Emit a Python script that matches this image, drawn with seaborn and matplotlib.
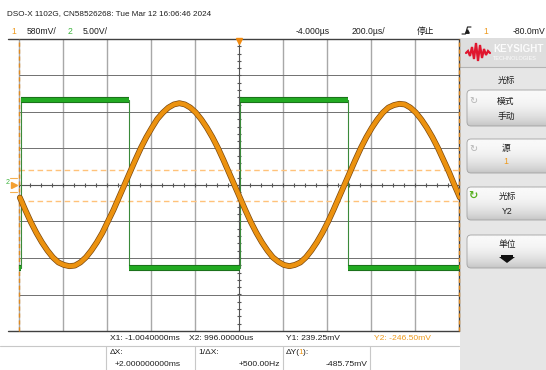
import numpy as np
import pandas as pd
import matplotlib
matplotlib.use('Agg')
import matplotlib.pyplot as plt
import seaborn as sns
from matplotlib.patches import Rectangle, FancyBboxPatch, Polygon

# scope settings shown on screen
ch1_mv_per_div = 580.0
ch2_v_per_div = 5.0
t_center_us = -4.0
us_per_div = 200.0

sine_t_us = np.arange(-1000, 1001, 25)
sine_mv = [-200, -400, -590, -760, -910, -1040, -1150, -1230, -1270, -1290,
           -1280, -1230, -1150, -1040, -910, -760, -580, -400, -200, 0,
           200, 400, 590, 760, 910, 1050, 1150, 1230, 1280, 1300,
           1280, 1230, 1150, 1040, 910, 760, 590, 400, 200, 0,
           -200, -400, -590, -760, -910, -1040, -1150, -1220, -1270, -1290,
           -1270, -1230, -1150, -1040, -910, -760, -590, -400, -200, 0,
           200, 400, 590, 760, 910, 1040, 1150, 1230, 1270, 1290,
           1280, 1230, 1150, 1040, 910, 760, 590, 400, 210, 0,
           -200]

# channel 2 (green) square wave corners
square_t_us = [-1004, -996, -996, -504, -504, 0, 0, 492, 492, 996]
square_v = [-11.4, -11.4, 11.6, 11.6, -11.4, -11.4, 11.6, 11.6, -11.4, -11.4]

# cursors
cursor_x_us = [-1004.0, 996.0]
cursor_y_mv = [239.25, -246.50]

ORANGE = '#ee9a1e'
GREEN = '#3cb43c'
TXT = '#1e1e1e'

sns.set_style('white')
plt.rcParams['font.family'] = ['Liberation Sans', 'Noto Sans CJK SC', 'DejaVu Sans']

fig = plt.figure(figsize=(5.46, 3.70), dpi=100)
ui = fig.add_axes([0, 0, 1, 1])
ui.axis('off')

W, H = 546, 370
gx0, gx1, gy0, gy1 = 7.7, 459, 39, 331
ax = fig.add_axes([gx0 / W, 1 - gy1 / H, (gx1 - gx0) / W, (gy1 - gy0) / H])
ax.axis('off')

t_left = t_center_us - 5 * us_per_div
t_right = t_center_us + 5 * us_per_div
ax.set_xlim(t_left - (19 - gx0) / 44 * us_per_div, t_right)
ax.set_ylim(-4, 4)

# graticule
for t in t_left + us_per_div * np.arange(10):
    if abs(t - t_center_us) < 1:
        continue
    ax.axvline(t, color='#a8a8a8', lw=1.0, zorder=1)
ax.axvline(t_center_us, color='#555555', lw=0.8, zorder=1)
for yv in [-3, -2, -1, 1, 2, 3]:
    ax.hlines(yv, t_left, t_right, color='#707070', lw=0.7, zorder=1)
ax.hlines(0, t_left, t_right, color='#555555', lw=0.8, zorder=1)
ax.axhline(4, color='#404040', lw=1.0, clip_on=False, zorder=1)
ax.axhline(-4, color='#404040', lw=1.0, clip_on=False, zorder=1)
ax.axvline(t_right, color='#404040', lw=1.0, clip_on=False, zorder=1)
ax.vlines(np.arange(t_left, t_right + 1, us_per_div / 4), -0.06, 0.06,
          color='#555555', lw=0.8, zorder=1)
ax.hlines(np.arange(-4, 4.01, 0.2), t_center_us - 9, t_center_us + 9,
          color='#555555', lw=0.8, zorder=1)

# cursors
for cy in cursor_y_mv:
    ax.hlines(cy / ch1_mv_per_div, t_left, t_right, color='#ffc27a',
              lw=1.0, linestyles=(0, (4, 2.5)), zorder=2)
for cx in cursor_x_us:
    ax.axvline(cx, color='#e08a20', lw=1.0, ls=(0, (3, 2)), clip_on=False, zorder=2)

# channel 2 square wave
sq = pd.DataFrame({'t': square_t_us,
                   'div': np.array(square_v) / ch2_v_per_div,
                   'seg': np.arange(len(square_t_us)) // 2})
sns.lineplot(data=sq, x='t', y='div', sort=False, estimator=None,
             color='#3a8a3a', lw=0.8, ax=ax, zorder=3)
sns.lineplot(data=sq, x='t', y='div', units='seg', sort=False, estimator=None,
             color='#1a621a', lw=4.4, ax=ax, zorder=3, solid_capstyle='butt')
sns.lineplot(data=sq, x='t', y='div', units='seg', sort=False, estimator=None,
             color='#22aa22', lw=3.2, ax=ax, zorder=3, solid_capstyle='butt')

# channel 1 sine
s1 = pd.DataFrame({'t': sine_t_us, 'div': np.array(sine_mv) / ch1_mv_per_div})
sns.lineplot(data=s1, x='t', y='div', sort=False, estimator=None,
             color='#7a4810', lw=4.2, ax=ax, zorder=4)
sns.lineplot(data=s1, x='t', y='div', sort=False, estimator=None,
             color='#ec920f', lw=3.2, ax=ax, zorder=4)

# delay marker
ax.plot([t_center_us], [3.95], marker='v', ms=5, color='#f08a10',
        clip_on=False, zorder=6)

# ---- screen furniture (pixel coordinates) ----
def txt(x, y, s, size=6.2, color=TXT, ha='left', **kw):
    ui.text(x, y, s, fontsize=size, color=color, ha=ha, va='center', **kw)

txt(7, 14, 'DSO-X 1102G, CN58526268: Tue Mar 12 16:06:46 2024', size=5.9)
txt(11, 31, '1', color=ORANGE)
txt(27, 31, '580mV/')
txt(68, 31, '2', color=GREEN)
txt(83, 31, '5.00V/')
txt(296, 31, '-4.000µs')
txt(352, 31, '200.0µs/')
txt(417, 31, '停止', size=6.3)
ui.plot([462, 465.5, 467.5, 471], [34, 34, 27, 27], color=TXT, lw=0.8)
ui.plot([466.5], [30.5], marker='^', ms=2.5, color=TXT)
txt(483, 31, '1', color=ORANGE)
txt(513, 31, '-80.0mV')

# channel ground markers
txt(6, 183, '2', size=5, color=GREEN)
ui.plot([13.5], [185], marker='>', ms=5, color='#f5a030')
ui.plot([10, 17], [178, 178], color='#f5b050', lw=0.8)
ui.plot([10, 17], [192, 192], color='#f5b050', lw=0.8)

# cursor readout
txt(110, 339, 'X1: -1.0040000ms', size=6.1)
txt(189, 339, 'X2: 996.00000us', size=6.1)
txt(286, 339, 'Y1: 239.25mV', size=6.1)
txt(374, 339, 'Y2: -246.50mV', size=6.1, color=ORANGE)
ui.plot([0, 459], [346, 346], color='#c8c8c8', lw=0.8)
for xs in [106, 195, 283, 370]:
    ui.plot([xs, xs], [346, 370], color='#c8c8c8', lw=0.8)
txt(110, 352, 'ΔX:', size=6.1)
txt(115, 364, '+2.000000000ms', size=6.1)
txt(198, 352, '1/ΔX:', size=6.1)
txt(280, 364, '+500.00Hz', size=6.1, ha='right')
txt(286, 352, 'ΔY(', size=6.1)
txt(298.6, 352, '1', size=6.1, color=ORANGE)
txt(302.6, 352, '):', size=6.1)
txt(367, 364, '-485.75mV', size=6.1, ha='right')

# right soft-key panel
ui.add_patch(Rectangle((460, 38), 90, 335, fc='#e6e6e6', ec='none', zorder=0))
ui.add_patch(Rectangle((460, 38), 90, 29, fc='#dedede', ec='none', zorder=0))
ui.plot([460, 546], [67, 67], color='#b4b4b4', lw=0.8)
ui.plot([466, 468, 470, 472, 474, 476, 478, 480, 482, 484, 486, 488, 490],
        [53, 51, 56, 47, 59, 43, 61, 45, 58, 49, 55, 51, 53],
        color='#e0162e', lw=1.6, solid_joinstyle='miter')
txt(493, 49, 'KEYSIGHT', size=7.1, color='#fbfbfb', fontweight='bold')
txt(493, 58.5, 'TECHNOLOGIES', size=4, color='#fbfbfb')
txt(506, 80, '光标', size=6.3, ha='center')


def button(y0, y1):
    x0, x1 = 467, 556
    patch = FancyBboxPatch((x0, y0), x1 - x0, y1 - y0,
                           boxstyle='round,pad=0,rounding_size=4',
                           fc='none', ec='#a2a2a2', lw=0.6, zorder=2)
    ui.add_patch(patch)
    g = np.linspace(0, 1, 64)
    shade = 0.975 - 0.2 * g ** 2.2
    im = ui.imshow(np.repeat(shade[:, None], 2, axis=1), extent=[x0, x1, y1, y0],
                   cmap='gray', vmin=0, vmax=1, aspect='auto', zorder=1)
    im.set_clip_path(patch)


button(90, 126)
button(139, 173)
button(187, 220)
button(235, 268)

txt(473, 101, '↻', size=7, color='#b4b4b4', ha='center', family='DejaVu Sans')
txt(506, 101, '模式', size=6.3, ha='center')
txt(506, 116, '手动', size=6.3, ha='center')
txt(473, 149, '↻', size=7, color='#b4b4b4', ha='center', family='DejaVu Sans')
txt(506, 149, '源', size=6.3, ha='center')
txt(506, 162, '1', size=6.3, color=ORANGE, ha='center')
txt(473, 196, '↻', size=8, color='#58b020', ha='center', family='DejaVu Sans',
    fontweight='bold')
txt(507, 196, '光标', size=6.3, ha='center')
txt(507, 211, 'Y2', size=6.3, ha='center')
txt(507, 244, '单位', size=6.3, ha='center')
ui.add_patch(Polygon([(499, 257), (515, 257), (507, 263)], closed=True,
                     fc='#111111', ec='none', zorder=3))
ui.add_patch(Rectangle((501, 254.5), 12, 2, fc='#111111', ec='none', zorder=3))

ui.set_xlim(0, W)
ui.set_ylim(H, 0)

fig.savefig('out.png', dpi=100)
